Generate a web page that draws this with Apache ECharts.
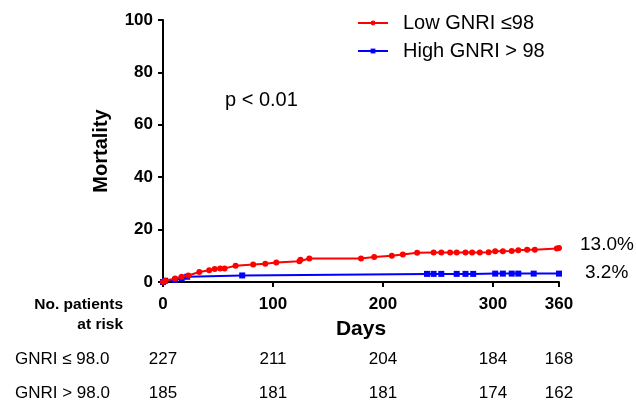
<!DOCTYPE html>
<html><head><meta charset="utf-8">
<script src="https://cdn.jsdelivr.net/npm/echarts@6/dist/echarts.min.js"></script>
<style>html,body{margin:0;padding:0;background:#fff}#c{width:636px;height:406px}</style>
</head><body><div id="c"></div>
<script>
const lowDays = [0,2,11,17,23,33,42,47,52,56,66,82,93,103,124,125,133,180,192,208,218,231,246,253,261,267,275,281,288,296,302,309,317,323,331,338,358,360];
const lowVals = [0,0.5,1.3,2.0,2.5,3.8,4.5,5.0,5.2,5.2,6.2,6.7,7.0,7.4,7.9,8.5,9.0,9.0,9.5,10.0,10.5,11.2,11.3,11.3,11.3,11.3,11.3,11.3,11.3,11.4,11.7,11.7,11.8,12.1,12.3,12.3,12.8,13.0];
const highDays = [0,2,11,17,22,72,240,246,253,267,275,282,302,309,317,323,337,360];
const highVals = [0,0.5,0.8,1.4,2.0,2.5,3.1,3.1,3.1,3.1,3.1,3.1,3.2,3.2,3.2,3.2,3.2,3.2];
const xTicks = [0,100,200,300,360];
const riskLabels = ['GNRI ≤ 98.0','GNRI > 98.0'];
const riskLow = [227,211,204,184,168];
const riskHigh = [185,181,181,174,162];
const seriesNames = ['Low GNRI ≤98','High GNRI > 98'];
const endLabels = ['13.0%','3.2%'];

const F = 'Liberation Sans, Arial, sans-serif';
const chart = echarts.init(document.getElementById('c'));
const toPairs = (d,v)=>d.map((x,i)=>[x,v[i]]);
chart.setOption({
  animation:false,
  grid:{left:163,right:77,top:20,bottom:124,containLabel:false},
  legend:{
    left:352,top:8,orient:'vertical',itemGap:8,itemWidth:30,itemHeight:6,
    textStyle:{fontFamily:F,fontSize:20,color:'#000',lineHeight:20,padding:[0,0,0,10]},
    data:seriesNames
  },
  xAxis:{
    type:'value',min:0,max:360,
    axisLine:{show:true,lineStyle:{color:'#000',width:2}},
    axisTick:{show:true,length:5,lineStyle:{color:'#000',width:2},customValues:xTicks},
    axisLabel:{fontFamily:F,fontSize:17,fontWeight:'bold',color:'#000',margin:14,customValues:xTicks},
    splitLine:{show:false},
    name:'Days',nameLocation:'middle',nameGap:37,
    nameTextStyle:{fontFamily:F,fontSize:21,fontWeight:'bold',color:'#000'}
  },
  yAxis:{
    type:'value',min:0,max:100,interval:20,
    axisLine:{show:true,lineStyle:{color:'#000',width:2}},
    axisTick:{show:true,length:5,lineStyle:{color:'#000',width:2}},
    axisLabel:{fontFamily:F,fontSize:17,fontWeight:'bold',color:'#000',margin:10},
    splitLine:{show:false},
    name:'Mortality',nameLocation:'middle',nameGap:52,
    nameTextStyle:{fontFamily:F,fontSize:20,fontWeight:'bold',color:'#000'}
  },
  series:[
    {name:seriesNames[0],type:'line',data:toPairs(lowDays,lowVals),symbol:'circle',symbolSize:6,
     itemStyle:{color:'#ff0000'},lineStyle:{color:'#ff0000',width:2},z:3,
     endLabel:{show:true,formatter:endLabels[0],fontFamily:F,fontSize:19,color:'#000',offset:[13,-3]}},
    {name:seriesNames[1],type:'line',data:toPairs(highDays,highVals),symbol:'rect',symbolSize:6,
     itemStyle:{color:'#0000ff'},lineStyle:{color:'#0000ff',width:2},z:2,
     endLabel:{show:true,formatter:endLabels[1],fontFamily:F,fontSize:19,color:'#000',offset:[18,-1]}}
  ]
});
const T = (x,y,text,extra)=>({type:'text',style:Object.assign({x:x,y:y,text:text,fontFamily:F,fill:'#000',verticalAlign:'middle'},extra)});
const g = [
  T(123,305,'No. patients',{fontSize:15.5,fontWeight:'bold',align:'right'}),
  T(123,325,'at risk',{fontSize:15.5,fontWeight:'bold',align:'right'}),
  T(225,100,'p < 0.01',{fontSize:20,align:'left'}),
  T(15,359,riskLabels[0],{fontSize:17,align:'left'}),
  T(15,393,riskLabels[1],{fontSize:17,align:'left'})
];
xTicks.forEach((t,i)=>{
  const px = chart.convertToPixel({xAxisIndex:0},t);
  g.push(T(px,359,String(riskLow[i]),{fontSize:17,align:'center'}));
  g.push(T(px,393,String(riskHigh[i]),{fontSize:17,align:'center'}));
});
chart.setOption({graphic:g});
</script></body></html>
